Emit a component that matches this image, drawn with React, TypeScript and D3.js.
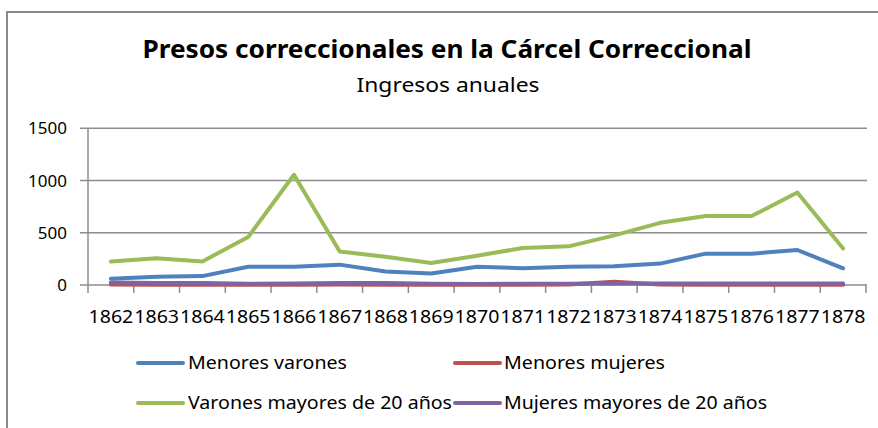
import { useEffect, useRef } from 'react';
import * as d3 from 'd3';

// datos
const years = ['1862', '1863', '1864', '1865', '1866', '1867', '1868', '1869', '1870', '1871', '1872', '1873', '1874', '1875', '1876', '1877', '1878'];
const menoresVarones = [60, 80, 85, 175, 175, 195, 130, 110, 175, 160, 175, 180, 205, 300, 300, 335, 160];
const menoresMujeres = [5, 3, 3, 2, 3, 5, 3, 2, 3, 2, 5, 30, 5, 3, 3, 3, 3];
const varonesMayores = [225, 255, 225, 460, 1055, 320, 270, 210, 280, 355, 370, 475, 595, 660, 660, 885, 350];
const mujeresMayores = [25, 20, 20, 12, 15, 18, 18, 12, 10, 12, 12, 15, 15, 15, 15, 15, 15];
const yTicks = [0, 500, 1000, 1500];

const seriesNames = ['Menores varones', 'Menores mujeres', 'Varones mayores de 20 años', 'Mujeres mayores de 20 años'];
const seriesColors = ['#4f81bd', '#c0504d', '#9bbb59', '#8064a2'];

const FONT = "'Noto Sans', 'Open Sans', sans-serif";

const App = () => {
  const svgRef = useRef<SVGSVGElement>(null);

  useEffect(() => {
    const W = 878;
    const H = 428;
    const svg = d3.select(svgRef.current);
    svg.selectAll('*').remove();
    svg.attr('width', W).attr('height', H);

    svg.append('rect').attr('width', W).attr('height', H).attr('fill', '#fff');

    // marco
    svg.append('path')
      .attr('d', `M7,${H} V12 H${W}`)
      .attr('fill', 'none')
      .attr('stroke', '#8a8a8a')
      .attr('stroke-width', 2);

    // títulos
    svg.append('text')
      .attr('x', 447).attr('y', 58)
      .attr('text-anchor', 'middle')
      .attr('font-family', FONT).attr('font-weight', 'bold').attr('font-size', 25)
      .attr('textLength', 609).attr('lengthAdjust', 'spacingAndGlyphs')
      .attr('fill', '#000')
      .text('Presos correccionales en la Cárcel Correccional');

    svg.append('text')
      .attr('x', 448).attr('y', 92)
      .attr('text-anchor', 'middle')
      .attr('font-family', FONT).attr('font-size', 20)
      .attr('textLength', 183).attr('lengthAdjust', 'spacingAndGlyphs')
      .attr('fill', '#000')
      .text('Ingresos anuales');

    const x = d3.scaleBand<string>().domain(years).range([88, 866]);
    const y = d3.scaleLinear().domain([0, 1500]).range([285, 128.3]);

    // rejilla y eje Y
    const yAxis = svg.append('g');
    yTicks.forEach(t => {
      yAxis.append('line')
        .attr('x1', 80).attr('x2', 867)
        .attr('y1', y(t)).attr('y2', y(t))
        .attr('stroke', '#8c8c8c').attr('stroke-width', 1.5);
      yAxis.append('text')
        .attr('x', 67).attr('y', y(t) + 6)
        .attr('text-anchor', 'end')
        .attr('font-family', FONT).attr('font-size', 17)
        .attr('fill', '#000')
        .text(t);
    });
    svg.append('line')
      .attr('x1', 88).attr('x2', 88).attr('y1', y(1500)).attr('y2', 293)
      .attr('stroke', '#8c8c8c').attr('stroke-width', 1.5);

    // eje X
    const bw = x.bandwidth();
    years.forEach((yr, i) => {
      const x0 = x(yr)!;
      svg.append('line')
        .attr('x1', x0 + bw).attr('x2', x0 + bw).attr('y1', 285).attr('y2', 293)
        .attr('stroke', '#8c8c8c').attr('stroke-width', 1.5);
      svg.append('text')
        .attr('x', x0 + bw / 2).attr('y', 323)
        .attr('text-anchor', 'middle')
        .attr('font-family', FONT).attr('font-size', 18)
        .attr('textLength', bw - 1).attr('lengthAdjust', 'spacingAndGlyphs')
        .attr('fill', '#000')
        .text(yr);
    });

    // series
    const allSeries = [menoresVarones, menoresMujeres, varonesMayores, mujeresMayores];
    const line = d3.line<number>()
      .x((_, i) => x(years[i])! + bw / 2)
      .y(d => y(d));

    allSeries.forEach((s, k) => {
      svg.append('path')
        .attr('d', line(s)!)
        .attr('fill', 'none')
        .attr('stroke', seriesColors[k])
        .attr('stroke-width', 4)
        .attr('stroke-linejoin', 'round')
        .attr('stroke-linecap', 'round');
    });

    // leyenda
    const legendPos = [
      { sx: 138, tx: 188, y: 363, len: 159 },
      { sx: 455, tx: 504, y: 363, len: 161 },
      { sx: 138, tx: 188, y: 403, len: 264 },
      { sx: 455, tx: 504, y: 403, len: 263 },
    ];
    seriesNames.forEach((name, k) => {
      const p = legendPos[k];
      svg.append('line')
        .attr('x1', p.sx).attr('x2', p.sx + 45)
        .attr('y1', p.y).attr('y2', p.y)
        .attr('stroke', seriesColors[k]).attr('stroke-width', 4)
        .attr('stroke-linecap', 'round');
      svg.append('text')
        .attr('x', p.tx).attr('y', p.y + 6)
        .attr('font-family', FONT).attr('font-size', 18)
        .attr('textLength', p.len).attr('lengthAdjust', 'spacingAndGlyphs')
        .attr('fill', '#000')
        .text(name);
    });
  }, []);

  return <svg ref={svgRef} style={{ position: 'absolute', left: 0, top: 0, display: 'block' }}></svg>;
};

export default App;
